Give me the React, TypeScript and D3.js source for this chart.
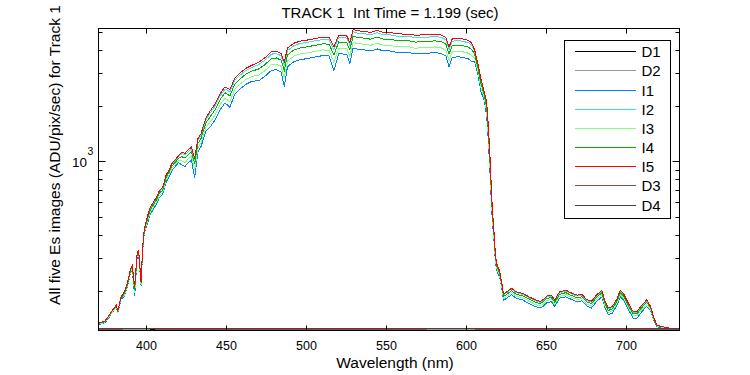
import React from "react";
import * as d3ns from "d3";

// some bundles expose d3 as a default export
const d3: any = (d3ns as any).scaleLinear ? d3ns : (d3ns as any).default;

// Wavelength grid (nm) shared by the five illuminated images
const wavelengths = [
  370, 372, 374, 376, 378, 380, 381, 382, 384,
  386, 388, 390, 391, 392.5, 394, 395, 396.5, 397.5, 398.5,
  400, 402, 404, 406, 408, 410, 412, 414, 416, 418, 420,
  422, 424, 426, 428, 430, 432, 434, 437,
  440, 443, 446, 449, 452, 455, 458, 462, 466,
  470, 474, 478, 481, 484, 486, 488, 492, 496, 500, 505, 510, 514,
  517, 520, 525, 527, 529, 532, 536, 540, 544, 548, 552, 556, 560, 564,
  568, 572, 576, 580, 584, 587, 589, 591, 595, 598, 601, 603,
  605, 607, 609, 611, 612.5, 613.5, 614.5, 615.3, 616, 617, 618, 619, 620.5, 622, 623,
  625, 628, 631, 635, 639, 643, 646, 648, 650, 653, 655, 658, 662, 665, 669, 672, 675,
  678, 681, 684.5, 686.5, 688.5, 691, 694, 696, 698, 701, 704, 706.5, 709.5, 712.5,
  715, 717, 719, 723, 727, 731, 733,
];

const i1 = [
  132, 133, 135, 142, 151, 159, 164, 153, 181,
  187, 211, 252, 262, 187, 302, 317, 214, 328, 409,
  449, 514, 550, 587, 642, 665, 770, 830, 903, 945, 990,
  961, 944, 987, 1021, 817, 1131, 1208, 1463,
  1556, 1695, 1916, 2080, 1970, 2310, 2457, 2621, 2727,
  2739, 2898, 3120, 3144, 3057, 2550, 3263, 3470, 3565, 3605, 3676, 3748, 3732,
  3100, 3835, 3811, 3400, 4121, 4049, 4026, 3970, 4073, 3970, 3970, 3906, 3891, 3891,
  3827, 3851, 3859, 3891, 3851, 3732, 3250, 3668, 3692, 3652, 3597, 3494,
  3460, 2950, 2380, 2150, 1750, 1300, 900, 640, 480, 380, 285, 255, 240, 205, 178,
  183, 191, 183, 179, 171, 165, 162, 166, 173, 175, 165, 183, 186, 181, 175, 177, 166,
  162, 175, 186, 162, 149, 152, 168, 186, 179, 159, 143, 143, 155, 165,
  157, 138, 128, 127, 125, 124, 124,
];

const i2 = [
  134, 135, 137, 145, 154, 162, 167, 156, 185,
  196, 221, 263, 274, 208, 316, 331, 224, 343, 427,
  485, 554, 593, 633, 692, 717, 831, 895, 974, 1019, 1068,
  1106, 1087, 1136, 1175, 1018, 1302, 1390, 1684,
  1851, 2016, 2279, 2474, 2385, 2747, 2922, 3117, 3243,
  3350, 3544, 3816, 3845, 3738, 3340, 3991, 4243, 4360, 4408, 4496, 4583, 4564,
  4040, 4690, 4661, 4270, 5039, 4952, 4923, 4855, 4981, 4855, 4855, 4777, 4758, 4758,
  4680, 4709, 4719, 4758, 4709, 4564, 4040, 4486, 4515, 4467, 4399, 4272,
  3960, 3330, 2710, 2360, 2060, 1540, 1071, 743, 549, 423, 307, 274, 256, 218, 191,
  196, 205, 196, 192, 184, 177, 174, 178, 186, 188, 177, 196, 200, 194, 188, 190, 178,
  174, 188, 200, 174, 160, 163, 180, 200, 192, 170, 153, 153, 166, 177,
  164, 143, 131, 128, 126, 125, 125,
];

const i3 = [
  133, 134, 136, 144, 152, 160, 165, 154, 183,
  190, 214, 256, 267, 195, 307, 322, 217, 333, 415,
  461, 527, 565, 602, 659, 682, 790, 852, 927, 969, 1016,
  1009, 991, 1036, 1072, 900, 1188, 1268, 1536,
  1653, 1801, 2036, 2210, 2110, 2453, 2610, 2784, 2897,
  2939, 3110, 3348, 3374, 3280, 2830, 3502, 3723, 3825, 3868, 3945, 4021, 4004,
  3450, 4115, 4090, 3700, 4422, 4345, 4320, 4260, 4371, 4260, 4260, 4192, 4175, 4175,
  4107, 4132, 4141, 4175, 4132, 4004, 3520, 3936, 3962, 3919, 3860, 3749,
  3640, 3080, 2500, 2230, 1860, 1380, 956, 673, 503, 394, 292, 261, 245, 209, 182,
  187, 196, 187, 184, 176, 169, 166, 170, 178, 180, 169, 187, 191, 185, 180, 182, 170,
  166, 180, 191, 166, 153, 156, 172, 191, 184, 163, 147, 147, 159, 169,
  159, 140, 129, 127, 125, 125, 125,
];

const i4 = [
  134, 135, 137, 145, 154, 162, 166, 156, 184,
  193, 218, 260, 270, 202, 312, 326, 221, 338, 421,
  474, 542, 581, 620, 678, 702, 813, 876, 953, 997, 1045,
  1064, 1046, 1093, 1130, 975, 1253, 1338, 1620,
  1765, 1923, 2174, 2360, 2270, 2620, 2787, 2973, 3094,
  3171, 3354, 3612, 3639, 3538, 3120, 3777, 4016, 4126, 4172, 4255, 4338, 4319,
  3780, 4439, 4411, 4020, 4770, 4687, 4659, 4595, 4714, 4595, 4595, 4521, 4503, 4503,
  4430, 4457, 4466, 4503, 4457, 4319, 3820, 4246, 4273, 4227, 4163, 4044,
  3820, 3220, 2620, 2300, 1970, 1460, 1021, 713, 529, 411, 300, 269, 251, 214, 187,
  192, 201, 192, 188, 181, 174, 171, 175, 183, 184, 174, 192, 196, 190, 184, 186, 175,
  171, 184, 196, 171, 157, 160, 177, 196, 188, 167, 151, 151, 163, 174,
  162, 141, 130, 128, 126, 125, 125,
];

const i5 = [
  135, 136, 138, 146, 155, 163, 168, 157, 186,
  197, 222, 265, 276, 211, 318, 333, 225, 345, 430,
  490, 560, 600, 640, 700, 725, 840, 905, 985, 1030, 1080,
  1130, 1110, 1160, 1200, 1040, 1330, 1420, 1720,
  1900, 2070, 2340, 2540, 2450, 2820, 3000, 3200, 3330,
  3450, 3650, 3930, 3960, 3850, 3460, 4110, 4370, 4490, 4540, 4630, 4720, 4700,
  4170, 4830, 4800, 4400, 5190, 5100, 5070, 5000, 5130, 5000, 5000, 4920, 4900, 4900,
  4820, 4850, 4860, 4900, 4850, 4700, 4170, 4620, 4650, 4600, 4530, 4400,
  4010, 3400, 2770, 2390, 2100, 1580, 1100, 760, 560, 430, 310, 277, 258, 220, 193,
  198, 207, 198, 194, 186, 179, 176, 180, 188, 190, 179, 198, 202, 196, 190, 192, 180,
  176, 190, 202, 176, 162, 165, 182, 202, 194, 172, 155, 155, 168, 179,
  165, 143, 131, 128, 126, 125, 125,
];

// Dark images
const darkWavelengths = [370, 385, 400, 410, 420, 440, 470, 500, 530, 560, 590, 605, 620, 650, 680, 710, 733];
const d1 = [124, 124, 124.2, 124, 124, 124.1, 124, 124, 124, 124.1, 124, 124, 124, 124, 124.1, 124, 124];
const d2 = [124.3, 124.4, 124.6, 125, 124.4, 124.3, 124.4, 124.3, 124.4, 124.3, 124.5, 124.4, 124.3, 124.4, 124.3, 124.4, 124.3];
const d3v = [124.6, 124.7, 124.8, 124.6, 124.7, 124.6, 124.7, 124.6, 124.7, 124.6, 124.8, 124.7, 124.6, 124.7, 124.6, 124.7, 124.6];
const d4v = [124.8, 124.9, 125, 124.8, 124.9, 124.8, 124.9, 124.8, 124.9, 124.8, 124.9, 124.8, 124.9, 124.8, 124.9, 124.8, 124.9];

const seriesNames = ["D1", "D2", "I1", "I2", "I3", "I4", "I5", "D3", "D4"];
const seriesColors = ["#000000", "#999999", "#0080ff", "#2ee4f4", "#80ff80", "#00b400", "#ff0000", "#8a4a4a", "#603838"];

const xTicks = [400, 450, 500, 550, 600, 650, 700];

const W = 750;
const H = 375;
const FONT = "'Liberation Sans', Arial, Helvetica, sans-serif";

const left = 98.5, right = 679.5, top = 28.5, bottom = 330.5;

const App = () => {
  const x = d3.scaleLinear().domain([369.9, 733]).range([left, right]);
  const y = d3.scaleLog().domain([122.4, 5250]).range([bottom, top]);
  const px = (v: number) => Math.floor(v) + 0.5;

  const illum: Record<string, number[]> = { I1: i1, I2: i2, I3: i3, I4: i4, I5: i5 };
  const dark: Record<string, number[]> = { D1: d1, D2: d2, D3: d3v, D4: d4v };

  const seriesData = seriesNames.map((name) =>
    name[0] === "I"
      ? wavelengths.map((w, k) => [w, illum[name][k]])
      : darkWavelengths.map((w, k) => [w, dark[name][k]])
  );

  const line = d3.line().x((d: number[]) => x(d[0])).y((d: number[]) => y(d[1]));

  const yTicks: number[] = y.ticks();

  return (
    <svg width={W} height={H} style={{ position: "absolute", left: 0, top: 0, display: "block" }}>
      <rect width={W} height={H} fill="#ffffff" />
      <defs>
        <clipPath id="plot-clip">
          <rect x={left} y={top} width={right - left} height={bottom - top} />
        </clipPath>
      </defs>

      <g clipPath="url(#plot-clip)">
        {seriesData.map((data, k) => (
          <path
            key={seriesNames[k]}
            d={line(data)}
            fill="none"
            stroke={seriesColors[k]}
            strokeWidth={1}
            shapeRendering="crispEdges"
          />
        ))}
      </g>

      <rect x={left} y={top} width={right - left} height={bottom - top} fill="none" stroke="#000" />

      {xTicks.map((t) => {
        const xx = px(x(t));
        return (
          <g key={t}>
            <line x1={xx} x2={xx} y1={bottom} y2={bottom - 5} stroke="#000" />
            <line x1={xx} x2={xx} y1={top} y2={top + 5} stroke="#000" />
            <text x={xx} y={350} textAnchor="middle" fontFamily={FONT} fontSize={12.5}>
              {t}
            </text>
          </g>
        );
      })}

      {yTicks.map((t) => {
        const yy = px(y(t));
        const e = Math.log10(t);
        const major = Math.abs(e - Math.round(e)) < 1e-9;
        const len = major ? 7 : 4;
        return (
          <g key={t}>
            <line x1={left} x2={left + len} y1={yy} y2={yy} stroke="#000" />
            <line x1={right} x2={right - len} y1={yy} y2={yy} stroke="#000" />
            {major && (
              <>
                <text x={87} y={yy + 5} textAnchor="end" fontFamily={FONT} fontSize={13.5}>
                  10
                </text>
                <text x={87.5} y={yy - 6.5} fontFamily={FONT} fontSize={10.5}>
                  {Math.round(e)}
                </text>
              </>
            )}
          </g>
        );
      })}

      <text x={390} y={18} textAnchor="middle" fontFamily={FONT} fontSize={15} style={{ whiteSpace: "pre" }}>
        {"TRACK 1  Int Time = 1.199 (sec)"}
      </text>
      <text x={395} y={368} textAnchor="middle" fontFamily={FONT} fontSize={15.5}>
        Wavelength (nm)
      </text>
      <text transform="translate(60,155) rotate(-90)" textAnchor="middle" fontFamily={FONT} fontSize={15.5}>
        All five Es images (ADU/pix/sec) for Track 1
      </text>

      <g>
        <rect x={564.5} y={40.5} width={106} height={178} fill="#fff" stroke="#000" />
        {seriesNames.map((name, k) => {
          const ly = px(51.7 + k * 19.17);
          return (
            <g key={name}>
              <line x1={575} x2={636} y1={ly} y2={ly} stroke={seriesColors[k]} />
              <text x={641.5} y={ly + 5.5} fontFamily={FONT} fontSize={15}>
                {name}
              </text>
            </g>
          );
        })}
      </g>
    </svg>
  );
};

export default App;
